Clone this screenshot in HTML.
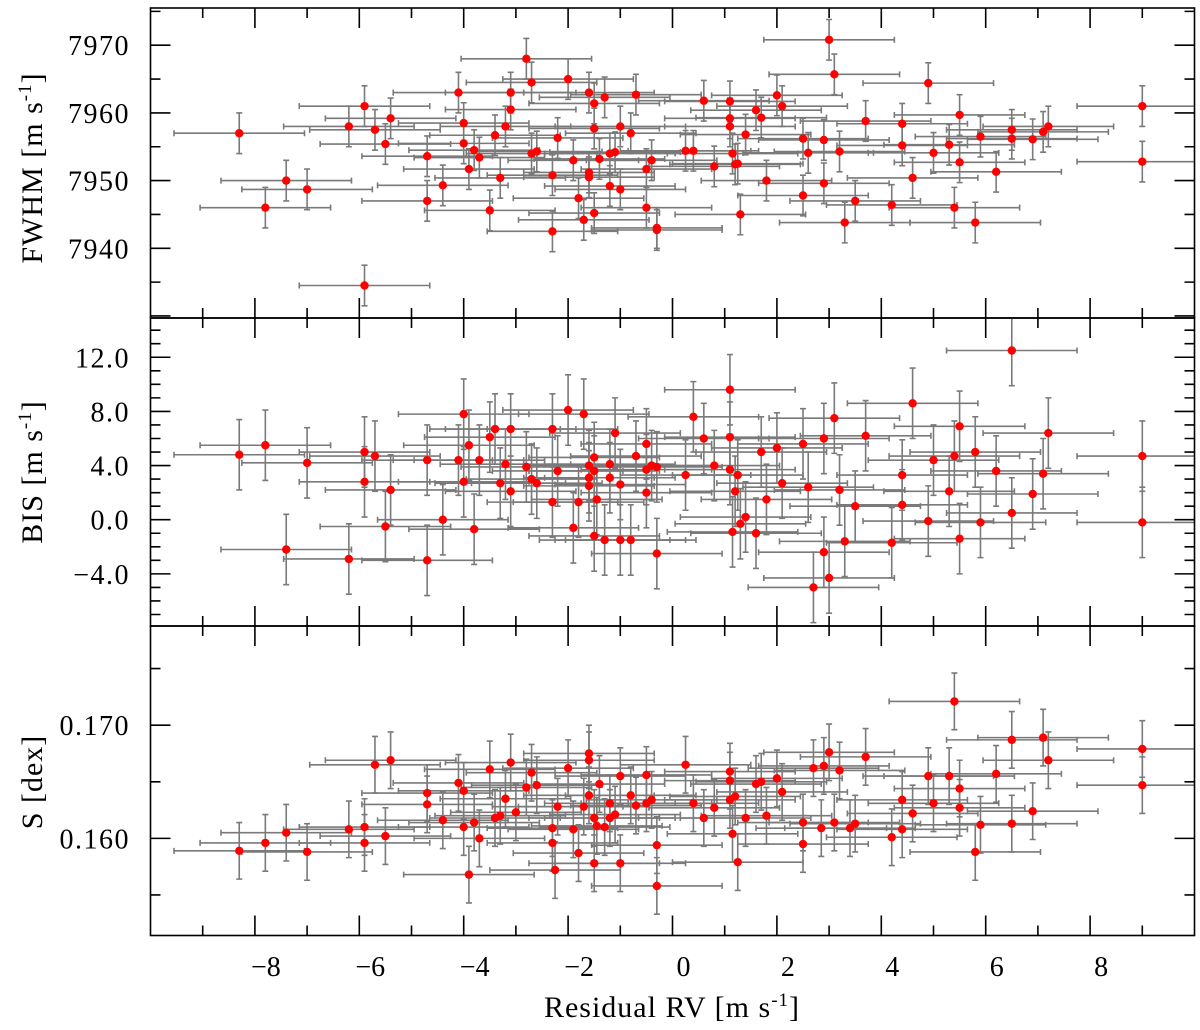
<!DOCTYPE html>
<html><head><meta charset="utf-8"><style>
html,body{margin:0;padding:0;background:#fff;}
svg{display:block;font-family:"Liberation Serif",serif;}
</style></head><body>
<svg id="chart" width="1200" height="1030" viewBox="0 0 1200 1030" xmlns="http://www.w3.org/2000/svg"></svg>
<script>
// ---- data ----
const fwhmX=[-8.3,-7.4,-7.8,-7.0,-5.9,-6.2,-5.9,-5.7,-5.5,-5.4,-4.7,-4.7,-4.4,-4.1,-4.0,-4.0,-3.9,-3.8,-3.7,-3.5,-3.4,-3.3,-3.2,-3.1,-3.1,-2.8,-2.7,-2.7,-2.6,-2.3,-2.3,-2.2,-2.0,-1.9,-1.8,-1.7,-1.6,-1.6,-1.6,-1.5,-1.5,-1.5,-1.4,-1.3,-1.2,-1.2,-1.1,-1.0,-1.0,-0.8,-0.7,-0.5,-0.5,-0.4,-0.3,-0.3,0.25,0.4,0.6,0.8,1.1,1.1,1.1,1.15,1.2,1.25,1.3,1.4,1.6,1.7,1.8,2.0,2.1,2.5,2.6,2.5,2.9,2.9,3.0,3.1,3.2,3.3,3.5,3.7,4.2,4.4,4.4,4.6,4.9,5.0,5.3,5.4,5.5,5.5,5.8,5.9,6.2,6.5,6.5,6.9,7.1,7.2,9.0,9.0];
const fwhmY=[7957,7950,7946,7948.7,7934.5,7958,7961,7957.5,7955.4,7959.2,7953.6,7947,7949.3,7963,7958.5,7955.5,7951.7,7954.5,7953.4,7945.6,7956.7,7950.4,7958,7963,7960.5,7968,7964.5,7954,7954.3,7950.8,7942.5,7956.3,7965,7953,7947.4,7944.2,7963,7951.2,7950.5,7957.7,7945.2,7961.4,7953.2,7962.3,7954,7949.2,7954.2,7958,7948.7,7957,7962.7,7951.7,7946,7953,7943,7942.7,7954.4,7954.4,7961.8,7952.1,7961.7,7959.2,7958,7954,7952.4,7952.5,7945,7956.8,7960.4,7959.3,7950,7962.6,7961,7956.2,7954.1,7947.8,7956,7949.6,7970.8,7965.7,7954.3,7943.8,7947,7958.8,7946.4,7958.4,7955.2,7950.4,7964.4,7954.1,7955.3,7946,7959.7,7952.7,7943.8,7956.5,7951.3,7957.5,7956.2,7956.1,7957.2,7958,7961,7952.8];
const bisX=[-8.3,-7.8,-7.4,-7.0,-6.2,-5.9,-5.9,-5.7,-5.5,-5.4,-4.7,-4.7,-4.4,-4.1,-4.0,-4.0,-3.9,-3.8,-3.7,-3.5,-3.4,-3.3,-3.2,-3.1,-3.1,-2.8,-2.7,-2.6,-2.3,-2.3,-2.2,-2.0,-1.9,-1.8,-1.7,-1.6,-1.6,-1.6,-1.5,-1.5,-1.5,-1.45,-1.3,-1.2,-1.2,-1.1,-1.0,-1.0,-0.8,-0.7,-0.5,-0.5,-0.5,-0.4,-0.3,-0.3,0.25,0.4,0.6,0.8,1.1,1.1,1.1,1.15,1.2,1.25,1.3,1.4,1.6,1.7,1.8,2.0,2.1,2.5,2.6,2.7,2.9,2.9,3.0,3.1,3.2,3.3,3.5,3.7,4.2,4.4,4.4,4.6,4.9,5.0,5.3,5.4,5.5,5.5,5.8,5.9,6.2,6.5,6.5,6.9,7.1,7.2,9.0,9.0];
const bisY=[4.8,5.5,-2.2,4.2,-2.9,5.0,2.8,4.7,-0.5,2.2,4.4,-3.0,0.0,4.4,7.8,2.8,5.5,-0.7,4.4,6.1,6.7,2.7,4.1,2.1,6.7,3.9,3.0,2.7,1.3,6.7,3.6,8.1,-0.6,1.3,7.8,4.0,3.1,2.5,-1.2,3.6,4.6,1.5,-1.5,3.1,4.1,6.4,-1.5,2.6,-1.5,4.7,5.6,3.7,2.0,4.0,-2.5,3.9,3.3,7.6,6.0,4.0,9.6,6.1,3.7,-0.9,2.1,3.3,-0.3,0.2,-1.0,5.0,1.5,5.3,2.7,5.6,2.4,-5.0,6.0,-2.4,-4.3,7.5,2.2,-1.6,1.0,6.2,-1.7,3.3,1.1,8.6,-0.1,4.4,2.1,4.7,6.9,-1.4,5.0,-0.2,3.6,12.5,0.5,1.9,3.4,6.4,4.7,-0.2];
const sX=[-8.3,-7.8,-7.4,-7.0,-6.2,-5.9,-5.9,-5.7,-5.5,-5.4,-4.7,-4.7,-4.4,-4.1,-4.0,-4.0,-3.9,-3.8,-3.7,-3.5,-3.4,-3.3,-3.2,-3.1,-3.0,-2.8,-2.7,-2.6,-2.3,-2.3,-2.25,-2.2,-2.0,-1.9,-1.8,-1.7,-1.6,-1.6,-1.6,-1.5,-1.5,-1.45,-1.4,-1.3,-1.2,-1.2,-1.1,-1.0,-1.0,-0.8,-0.7,-0.5,-0.5,-0.4,-0.3,-0.3,0.25,0.4,0.6,0.8,1.1,1.1,1.1,1.15,1.2,1.25,1.4,1.6,1.7,1.8,2.0,2.1,2.5,2.5,2.7,2.85,2.9,3.0,3.1,3.2,3.4,3.5,3.7,4.2,4.4,4.4,4.6,4.9,5.0,5.3,5.4,5.5,5.5,5.8,5.9,6.2,6.5,6.5,6.9,7.1,7.2,9.0,9.0];
const sY=[0.1589,0.1596,0.1605,0.1588,0.1608,0.1610,0.1596,0.1665,0.1602,0.1669,0.1640,0.1630,0.1616,0.1649,0.1642,0.1610,0.1568,0.1614,0.1600,0.1661,0.1618,0.1620,0.1635,0.1667,0.1623,0.1645,0.1658,0.1647,0.1609,0.1596,0.1572,0.1628,0.1662,0.1608,0.1587,0.1628,0.1675,0.1669,0.1638,0.1578,0.1618,0.1611,0.1648,0.1610,0.1631,0.1618,0.1621,0.1578,0.1655,0.1638,0.1629,0.1631,0.1656,0.1634,0.1594,0.1558,0.1665,0.1631,0.1618,0.1627,0.1659,0.1651,0.1634,0.1604,0.1637,0.1579,0.1618,0.1648,0.1650,0.1620,0.1653,0.1641,0.1614,0.1595,0.1662,0.1609,0.1664,0.1676,0.1614,0.1660,0.1609,0.1613,0.1672,0.1601,0.1634,0.1608,0.1622,0.1655,0.1631,0.1655,0.1721,0.1627,0.1644,0.1588,0.1612,0.1657,0.1687,0.1613,0.1624,0.1689,0.1669,0.1679,0.1647];
const xTickLabels=["−8","−6","−4","−2","0","2","4","6","8"];
const xTickValues=[-8,-6,-4,-2,0,2,4,6,8];
const fwhmTicks=[7940,7950,7960,7970];
const bisTicks=[-4,0,4,8,12];
const sTicks=[0.160,0.170];

// ---- layout ----
const NS="http://www.w3.org/2000/svg";
const svg=document.getElementById('chart');
const L=150.5,R=1194.5;
const xMin=-10,xMax=10;
const X=v=>L+(v-xMin)/(xMax-xMin)*(R-L);
function el(tag,attrs,parent){const e=document.createElementNS(NS,tag);for(const k in attrs)e.setAttribute(k,attrs[k]);(parent||svg).appendChild(e);return e;}

const panels=[
 {name:'fwhm',top:8,bot:318,ymin:7929.7,ymax:7975.5,major:10,minor:5,ticks:fwhmTicks,fmt:v=>String(v),xs:fwhmX,ys:fwhmY,yerr:3.0},
 {name:'bis',top:318,bot:626,ymin:-7.85,ymax:14.9,major:4,minor:1,ticks:bisTicks,fmt:v=>(v<0?"−":"")+Math.abs(v).toFixed(1),xs:bisX,ys:bisY,yerr:2.6},
 {name:'s',top:626,bot:935.5,ymin:0.15142,ymax:0.17876,major:0.01,minor:0.005,ticks:sTicks,fmt:v=>v.toFixed(3),xs:sX,ys:sY,yerr:0.0025}
];
const xerr=1.25;

panels.forEach(p=>{
  const g=el('g',{});
  
  
  const Y=v=>p.bot-(v-p.ymin)/(p.ymax-p.ymin)*(p.bot-p.top);
  const eg=el('g',{stroke:'#7a7a7a','stroke-width':1.6,fill:'none'},g);
  
  
  const pg=el('g',{fill:'#ff0000'},g);
  
  
  for(let i=0;i<p.xs.length;i++){
    const cx=X(p.xs[i]),cy=Y(p.ys[i]);
    const x1=Math.max(L,X(p.xs[i]-xerr)),x2=Math.min(R,X(p.xs[i]+xerr));
    const y1=Math.max(p.top,Y(p.ys[i]+p.yerr)),y2=Math.min(p.bot,Y(p.ys[i]-p.yerr));
    el('path',{d:`M${x1},${cy}H${x2}M${cx},${y1}V${y2}`+
      (X(p.xs[i]-xerr)>L?`M${x1},${cy-3}V${cy+3}`:'')+
      (X(p.xs[i]+xerr)<R?`M${x2},${cy-3}V${cy+3}`:'')+
      (Y(p.ys[i]+p.yerr)>p.top?`M${cx-3},${y1}H${cx+3}`:'')+
      (Y(p.ys[i]-p.yerr)<p.bot?`M${cx-3},${y2}H${cx+3}`:'')},eg);
    const c=el('circle',{cx:cx,cy:cy,r:4.2},pg);
    
    
  }
  const ag=el('g',{stroke:'#000','stroke-width':1.6,fill:'none'},g);
  
  
  el('rect',{x:L,y:p.top,width:R-L,height:p.bot-p.top},ag);
  let d='';
  for(let v=-9;v<=9;v++){
    const len=(v%2===0)?20:10;const x=X(v);
    d+=`M${x},${p.bot}V${p.bot-len}M${x},${p.top}V${p.top+len}`;
  }
  const n0=Math.ceil(p.ymin/p.minor-1e-6),n1=Math.floor(p.ymax/p.minor+1e-6);
  for(let n=n0;n<=n1;n++){
    const v=n*p.minor;const isMaj=Math.abs(v/p.major-Math.round(v/p.major))<1e-6;
    const len=isMaj?20:10;const y=Y(v);
    d+=`M${L},${y}H${L+len}M${R},${y}H${R-len}`;
  }
  el('path',{d:d},ag);
  p.ticks.forEach(v=>{
    const t=el('text',{x:130,y:Y(v)+10,'text-anchor':'end','font-size':28,'letter-spacing':1.5,fill:'#000'},g);
    t.textContent=p.fmt(v);
    
    
  });
});
xTickValues.forEach((v,i)=>{
  const t=el('text',{x:X(v)+11,y:976,'text-anchor':'middle','font-size':28,fill:'#000'});
  t.textContent=xTickLabels[i];
  
  
});
</script>
<svg style="position:absolute;left:0;top:0" width="1200" height="1030">
 <text x="672" y="1017" text-anchor="middle" font-family="Liberation Serif, serif" font-size="30" letter-spacing="1">Residual RV [m s<tspan dy="-11" font-size="19">-1</tspan><tspan dy="11">]</tspan></text>
 <text transform="translate(42,168) rotate(-90)" text-anchor="middle" font-family="Liberation Serif, serif" font-size="30" letter-spacing="1">FWHM [m s<tspan dy="-11" font-size="19">-1</tspan><tspan dy="11">]</tspan></text>
 <text transform="translate(42,472) rotate(-90)" text-anchor="middle" font-family="Liberation Serif, serif" font-size="30" letter-spacing="1">BIS [m s<tspan dy="-11" font-size="19">-1</tspan><tspan dy="11">]</tspan></text>
 <text transform="translate(42,782) rotate(-90)" text-anchor="middle" font-family="Liberation Serif, serif" font-size="30" letter-spacing="1">S [dex]</text>
</svg>
</body></html>
